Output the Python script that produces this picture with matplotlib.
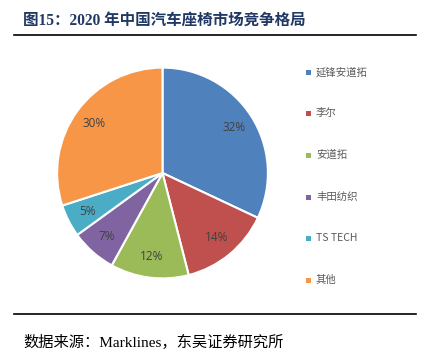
import matplotlib
matplotlib.use("Agg")
import matplotlib.pyplot as plt
from matplotlib.patches import Rectangle
from matplotlib.lines import Line2D

plt.rcParams['font.family'] = ['Noto Sans CJK SC', 'DejaVu Sans']

labels = ['延锋安道拓', '李尔', '安道拓', '丰田纺织', 'TS TECH', '其他']
values = [32, 14, 12, 7, 5, 30]
colors = ['#4f81bd', '#c0504d', '#9bbb59', '#8064a2', '#4bacc6', '#f79646']

W, H = 439, 357
fig = plt.figure(figsize=(W / 100, H / 100), dpi=100)

cx, cy, r = 162.5, 173, 107.5
ax = fig.add_axes([(cx - r) / W, (H - cy - r) / H, 2 * r / W, 2 * r / H])
wedges, texts, autotexts = ax.pie(
    values, colors=colors, startangle=90, counterclock=False,
    autopct='%d%%', pctdistance=0.8,
    wedgeprops=dict(edgecolor='white', linewidth=1.5),
    textprops=dict(color='#404040', fontsize=8.5, family=['Open Sans', 'DejaVu Sans']))
ax.set_xlim(-1.02, 1.02)
ax.set_ylim(-1.02, 1.02)
ax.set_aspect('equal')
ax.axis('off')

# legend
ys = [72, 113, 155, 197, 238, 280]
for lab, col, y in zip(labels, colors, ys):
    fig.patches.append(Rectangle((306 / W, (H - y - 2.5) / H), 5 / W, 5 / H,
                                 transform=fig.transFigure, facecolor=col, edgecolor='none'))
    fig.text(316 / W, (H - y) / H, lab, fontsize=7.5, color='#595959', va='center', ha='left')

# title
fig.text(23 / W, (H - 21) / H, '图15：2020 年中国汽车座椅市场竞争格局', fontsize=11.2,
         fontweight='bold', color='#1f3864', va='center', ha='left',
         family=['Liberation Serif', 'Noto Sans CJK SC'])
# rules
fig.add_artist(Line2D([14 / W, 416 / W], [(H - 35) / H] * 2, color='black', lw=1.2,
                      transform=fig.transFigure))
fig.add_artist(Line2D([14 / W, 416 / W], [(H - 314) / H] * 2, color='black', lw=1.2,
                      transform=fig.transFigure))
# footer
fig.text(23 / W, (H - 342) / H, '数据来源：Marklines，东吴证券研究所', fontsize=11,
         color='black', va='center', ha='left',
         family=['Liberation Serif', 'Noto Sans CJK SC'])

fig.savefig('out.png', dpi=100)
